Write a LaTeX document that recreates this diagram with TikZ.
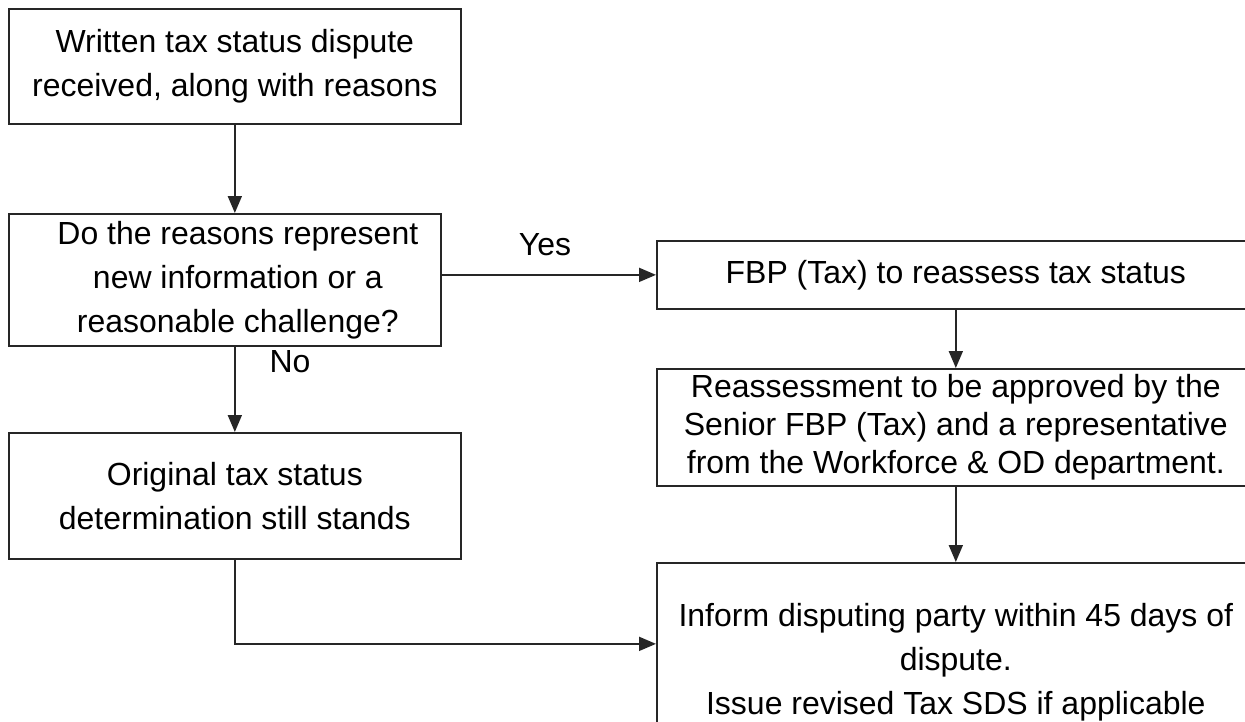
\documentclass[tikz,border=0pt]{standalone}
\usepackage{fontspec}
\setmainfont{Liberation Sans}
\usetikzlibrary{arrows.meta,positioning}

\newcommand{\indentline}{\hspace*{0.52cm}}

\begin{document}
\begin{tikzpicture}[x=0.02cm,y=-0.02cm,
    stepbox/.style={draw=black!85,line width=1pt,inner sep=0pt,align=center,
      anchor=north west,font=\fontsize{18.2}{25}\selectfont},
    flow/.style={draw=black!85,line width=1pt,-{Triangle[length=0.34cm,width=0.28cm]}},
    lbl/.style={font=\fontsize{18.2}{25}\selectfont}]
  \useasboundingbox (0,0) rectangle (1245,721);
  \clip (0,0) rectangle (1245,721);

  % left column
  \node[stepbox,minimum width=9.04cm,minimum height=2.3cm] (recv) at (8,8)
    {Written tax status dispute\\received, along with reasons};
  \node[stepbox,minimum width=8.64cm,minimum height=2.64cm] (check) at (8,213)
    {\indentline Do the reasons represent\\\indentline new information or a\\\indentline reasonable challenge?};
  \node[stepbox,minimum width=9.04cm,minimum height=2.52cm] (stands) at (8,432)
    {Original tax status\\determination still stands};

  % right column
  \node[stepbox,minimum width=11.96cm,minimum height=1.36cm] (reass) at (656,240)
    {FBP (Tax) to reassess tax status};
  \node[stepbox,minimum width=11.96cm,minimum height=2.34cm,
    font=\fontsize{18.2}{21.6}\selectfont] (appr) at (656,368)
    {Reassessment to be approved by the\\Senior FBP (Tax) and a representative\\from the Workforce \& OD department.};
  \node[stepbox,minimum width=11.96cm,minimum height=3.96cm] (inform) at (656,562)
    {Inform disputing party within 45 days of\\dispute.\\Issue revised Tax SDS if applicable};

  % connectors
  \draw[flow] (recv.south) -- (recv.south |- check.north);
  \draw[flow] (check.south -| recv.south) -- (stands.north);
  \draw[flow] (check.east |- reass.west) -- (reass.west);
  \draw[flow] (reass.south) -- (appr.north);
  \draw[flow] (appr.south) -- (inform.north);
  \draw[flow] (stands.south) |- ([yshift=0.36cm]inform.west);

  \node[lbl] (yes) at (545,245) {Yes};
  \node[lbl] (no) at (290,362) {No};
\end{tikzpicture}
\end{document}
